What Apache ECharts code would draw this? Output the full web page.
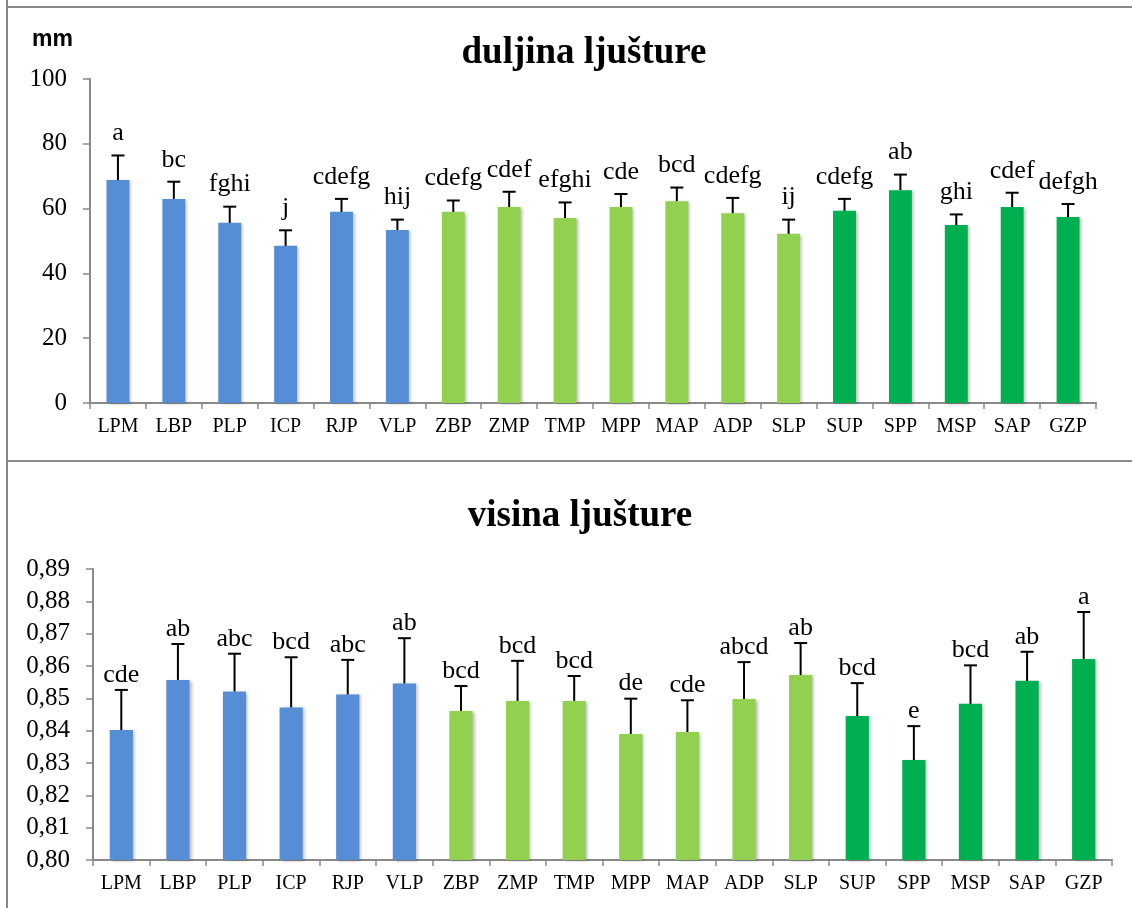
<!DOCTYPE html>
<html>
<head>
<meta charset="utf-8">
<script src="https://cdn.jsdelivr.net/npm/echarts@6/dist/echarts.min.js"></script>
<style>
html,body{margin:0;padding:0;background:#fff;}
#c{width:1132px;height:908px;}
</style>
</head>
<body>
<div id="c"></div>
<script>
const categories = ['LPM','LBP','PLP','ICP','RJP','VLP','ZBP','ZMP','TMP','MPP','MAP','ADP','SLP','SUP','SPP','MSP','SAP','GZP'];
const groupIdx = [0,0,0,0,0,0,1,1,1,1,1,1,1,2,2,2,2,2];
const groupColors = ['#558ED5','#92D050','#00B050'];

// duljina ljušture (mm)
const lengthMean = [68.8,63.0,55.6,48.5,59.0,53.4,59.0,60.5,57.1,60.5,62.3,58.6,52.2,59.3,65.7,54.9,60.5,57.4];
const lengthErrTop = [76.4,68.3,60.6,53.3,63.0,56.6,62.5,65.2,61.9,64.5,66.5,63.3,56.6,63.0,70.5,58.2,64.9,61.4];
const lengthLetters = ['a','bc','fghi','j','cdefg','hij','cdefg','cdef','efghi','cde','bcd','cdefg','ij','cdefg','ab','ghi','cdef','defgh'];

// visina ljušture
const heightMean = [0.8402,0.8557,0.8521,0.8472,0.8512,0.8546,0.8461,0.8492,0.8492,0.8390,0.8396,0.8498,0.8572,0.8445,0.8309,0.8483,0.8554,0.8622];
const heightErrTop = [0.8526,0.8668,0.8638,0.8627,0.8619,0.8686,0.8538,0.8616,0.8569,0.8499,0.8494,0.8612,0.8671,0.8547,0.8414,0.8602,0.8644,0.8767];
const heightLetters = ['cde','ab','abc','bcd','abc','ab','bcd','bcd','bcd','de','cde','abcd','ab','bcd','e','bcd','ab','a'];

const serif = '"Liberation Serif","Times New Roman",serif';
const axisGray = '#898989';

function barData(vals){
  return vals.map((v,i)=>({value:v, itemStyle:{color:groupColors[groupIdx[i]]}}));
}
function errData(means, tops){
  return means.map((m,i)=>[i, m, tops[i]]);
}
function makeErr(letters, gap){
  return function(params, api){
    const i = api.value(0);
    const base = api.coord([i, api.value(1)]);
    const top = api.coord([i, api.value(2)]);
    const cap = 6.5;
    return {type:'group', children:[
      {type:'line', shape:{x1:base[0],y1:base[1],x2:top[0],y2:top[1]}, style:{stroke:'#000',lineWidth:2}},
      {type:'line', shape:{x1:top[0]-cap,y1:top[1],x2:top[0]+cap,y2:top[1]}, style:{stroke:'#000',lineWidth:2}},
      {type:'text', x:top[0], y:top[1]-gap, style:{text:letters[params.dataIndex], fill:'#000', font:'26px '+serif, align:'center', verticalAlign:'bottom'}}
    ]};
  };
}

const xAxisCommon = {
  type:'category', data:categories,
  axisLine:{lineStyle:{color:axisGray,width:2}},
  axisTick:{show:true,length:6,lineStyle:{color:axisGray,width:1.5}},
  axisLabel:{color:'#000',fontFamily:serif,fontSize:20,margin:14,interval:0}
};
const yAxisCommon = {
  type:'value',
  splitLine:{show:false},
  axisLine:{show:true,lineStyle:{color:axisGray,width:2}},
  axisTick:{show:true,length:7,lineStyle:{color:axisGray,width:1.5}},
  axisLabel:{color:'#000',fontFamily:serif,fontSize:25,margin:23}
};
const barShadow = {shadowColor:'rgba(0,0,0,0.25)',shadowBlur:3,shadowOffsetX:2,shadowOffsetY:1};

const chart = echarts.init(document.getElementById('c'), null, {renderer:'canvas'});
chart.setOption({
  animation:false,
  backgroundColor:'#fff',
  title:[
    {text:'duljina ljušture', left:579, top:30, textAlign:'center', textStyle:{fontFamily:serif,fontWeight:'bold',fontSize:37,color:'#000'}},
    {text:'visina ljušture', left:575, top:493, textAlign:'center', textStyle:{fontFamily:serif,fontWeight:'bold',fontSize:37,color:'#000'}}
  ],
  grid:[
    {left:90, right:36, top:79, height:324},
    {left:93, right:20, top:569, height:291}
  ],
  xAxis:[
    Object.assign({gridIndex:0}, xAxisCommon),
    Object.assign({gridIndex:1}, xAxisCommon)
  ],
  yAxis:[
    Object.assign({gridIndex:0, min:0, max:100, interval:20}, yAxisCommon),
    Object.assign({gridIndex:1, min:0.80, max:0.89, interval:0.01}, yAxisCommon,
      {axisLabel:Object.assign({}, yAxisCommon.axisLabel, {formatter:v=>v.toFixed(2).replace('.',',')})})
  ],
  series:[
    {type:'bar', xAxisIndex:0, yAxisIndex:0, data:barData(lengthMean), barWidth:'41%', itemStyle:barShadow},
    {type:'custom', xAxisIndex:0, yAxisIndex:0, data:errData(lengthMean,lengthErrTop), renderItem:makeErr(lengthLetters,9), z:5},
    {type:'bar', xAxisIndex:1, yAxisIndex:1, data:barData(heightMean), barWidth:'41%', itemStyle:barShadow},
    {type:'custom', xAxisIndex:1, yAxisIndex:1, data:errData(heightMean,heightErrTop), renderItem:makeErr(heightLetters,2), z:5}
  ],
  graphic:[
    {type:'line', shape:{x1:7,y1:0,x2:7,y2:908}, style:{stroke:axisGray,lineWidth:2}},
    {type:'line', shape:{x1:7,y1:7,x2:1132,y2:7}, style:{stroke:axisGray,lineWidth:2}},
    {type:'line', shape:{x1:7,y1:461,x2:1132,y2:461}, style:{stroke:axisGray,lineWidth:2}},
    {type:'text', left:32, top:28, style:{text:'mm', fill:'#000', font:'bold 23px "Liberation Sans",Arial,sans-serif'}}
  ]
});
</script>
</body>
</html>
